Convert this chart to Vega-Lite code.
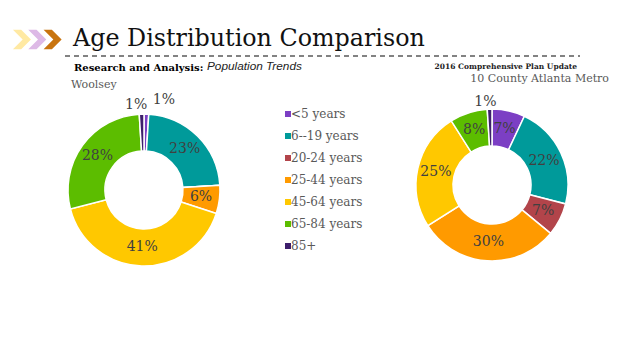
{
  "$schema": "https://vega.github.io/schema/vega-lite/v6.json",
  "background": "white",
  "padding": {"left": 12, "top": 27, "right": 0, "bottom": 0},
  "config": {"view": {"stroke": null}},
  "datasets": {
    "chevrons": [{"step": 1}, {"step": 2}, {"step": 3}],
    "heading": [{"text": "Age Distribution Comparison"}],
    "woolsey": [
      {"k": 1, "age": "<5 years", "share": 0.01},
      {"k": 2, "age": "6--19 years", "share": 0.23},
      {"k": 3, "age": "20-24 years", "share": 0},
      {"k": 4, "age": "25-44 years", "share": 0.06},
      {"k": 5, "age": "45-64 years", "share": 0.41},
      {"k": 6, "age": "65-84 years", "share": 0.28},
      {"k": 7, "age": "85+", "share": 0.01}
    ],
    "atlanta": [
      {"k": 1, "age": "<5 years", "share": 0.07},
      {"k": 2, "age": "6--19 years", "share": 0.22},
      {"k": 3, "age": "20-24 years", "share": 0.07},
      {"k": 4, "age": "25-44 years", "share": 0.30},
      {"k": 5, "age": "45-64 years", "share": 0.25},
      {"k": 6, "age": "65-84 years", "share": 0.08},
      {"k": 7, "age": "85+", "share": 0.01}
    ]
  },
  "vconcat": [
    {
      "hconcat": [
        {
          "width": 46,
          "height": 7,
          "data": {"name": "chevrons"},
          "mark": {"type": "point", "shape": "M-1,-1L-0.15,-1L0.85,0L-0.15,1L-1,1L0,0Z", "filled": true, "size": 380, "opacity": 1, "strokeWidth": 0},
          "encoding": {
            "x": {"field": "step", "type": "ordinal", "axis": null, "scale": {"padding": 0.5}},
            "color": {"field": "step", "type": "ordinal", "legend": null, "scale": {"range": ["#FFE9A3", "#DDB9E6", "#C8740F"]}}
          }
        },
        {
          "width": 515,
          "height": 20,
          "data": {"name": "heading"},
          "layer": [
            {
              "mark": {"type": "rule", "strokeDash": [5, 4], "strokeWidth": 1.5, "color": "#5a5a5a"},
              "encoding": {
                "x": {"datum": 0, "type": "quantitative", "scale": {"domain": [0, 1]}, "axis": null},
                "x2": {"datum": 1},
                "y": {"datum": 0, "type": "quantitative", "scale": {"domain": [0, 1]}, "axis": null}
              }
            },
            {
              "mark": {"type": "text", "align": "left", "baseline": "alphabetic", "dx": 8, "font": "DejaVu Serif", "fontSize": 23.8, "color": "#111111"},
              "encoding": {
                "x": {"datum": 0, "type": "quantitative"},
                "text": {"field": "text", "type": "nominal"}
              }
            }
          ]
        }
      ],
      "spacing": 2,
      "resolve": {"scale": {"color": "independent", "x": "independent", "y": "independent"}}
    },
    {
      "vconcat": [
        {
          "hconcat": [
            {
              "width": 1, "height": 1,
              "data": {"values": []},
              "mark": "point",
              "title": {"text": "Research and Analysis:", "anchor": "start", "dx": 59, "offset": 0, "font": "DejaVu Serif", "fontSize": 10, "fontWeight": "bold", "color": "#000000"}
            },
            {
              "width": 1, "height": 1,
              "data": {"values": []},
              "mark": "point",
              "title": {"text": "Population Trends", "anchor": "start", "offset": 0, "font": "Liberation Sans", "fontStyle": "italic", "fontSize": 11.8, "fontWeight": "normal", "color": "#222222"}
            },
            {
              "width": 272, "height": 1,
              "data": {"values": []},
              "mark": "point",
              "title": {"text": "2016 Comprehensive Plan Update", "anchor": "end", "offset": 3, "font": "DejaVu Serif", "fontSize": 7.5, "fontWeight": "bold", "color": "#222222"}
            }
          ],
          "spacing": 3
        },
        {
          "hconcat": [
            {
              "width": 258,
              "height": 178,
              "data": {"name": "woolsey"},
              "title": {"text": "Woolsey", "anchor": "start", "dx": 56, "offset": 3, "font": "DejaVu Serif", "fontSize": 11, "fontWeight": "normal", "color": "#595959"},
              "encoding": {
                "theta": {"field": "share", "type": "quantitative", "stack": true},
                "order": {"field": "k", "type": "quantitative"},
                "color": {
                  "field": "age", "type": "nominal",
                  "scale": {"domain": ["<5 years", "6--19 years", "20-24 years", "25-44 years", "45-64 years", "65-84 years", "85+"], "range": ["#7C3FC4", "#009A9A", "#B2444A", "#FF9A00", "#FFC800", "#5CBD00", "#3D1E6C"]},
                  "legend": {"title": null, "orient": "right", "offset": 2, "padding": 7, "symbolType": "square", "symbolSize": 36, "symbolStrokeWidth": 0, "labelFont": "DejaVu Serif", "labelFontSize": 12, "labelColor": "#595959", "rowPadding": 10, "labelOffset": -3}
                }
              },
              "layer": [
                {"mark": {"type": "arc", "outerRadius": 76, "innerRadius": 39, "stroke": "white", "strokeWidth": 1.5}},
                {
                  "mark": {"type": "text", "radius": 57.5, "font": "DejaVu Serif", "fontSize": 14},
                  "encoding": {
                    "text": {"field": "share", "type": "quantitative", "format": ".0%"},
                    "color": {"value": "#404040"},
                    "opacity": {"condition": {"test": "datum.share < 0.02", "value": 0}, "value": 1}
                  }
                },
                {
                  "mark": {"type": "text", "radius": 90, "align": "left", "dx": 6, "font": "DejaVu Serif", "fontSize": 14},
                  "encoding": {
                    "text": {"field": "share", "type": "quantitative", "format": ".0%"},
                    "color": {"value": "#404040"},
                    "opacity": {"condition": {"test": "datum.age !== '<5 years'", "value": 0}, "value": 1}
                  }
                },
                {
                  "mark": {"type": "text", "radius": 85, "align": "right", "dx": 6, "font": "DejaVu Serif", "fontSize": 14},
                  "encoding": {
                    "text": {"field": "share", "type": "quantitative", "format": ".0%"},
                    "color": {"value": "#404040"},
                    "opacity": {"condition": {"test": "datum.age !== '85+'", "value": 0}, "value": 1}
                  }
                }
              ]
            },
            {
              "width": 234,
              "height": 168,
              "data": {"name": "atlanta"},
              "title": {"text": "10 County Atlanta Metro", "anchor": "end", "offset": 11, "font": "DejaVu Serif", "fontSize": 11, "fontWeight": "normal", "color": "#595959"},
              "encoding": {
                "theta": {"field": "share", "type": "quantitative", "stack": true},
                "order": {"field": "k", "type": "quantitative"},
                "color": {
                  "field": "age", "type": "nominal",
                  "scale": {"domain": ["<5 years", "6--19 years", "20-24 years", "25-44 years", "45-64 years", "65-84 years", "85+"], "range": ["#7C3FC4", "#009A9A", "#B2444A", "#FF9A00", "#FFC800", "#5CBD00", "#3D1E6C"]},
                  "legend": null
                }
              },
              "layer": [
                {"mark": {"type": "arc", "outerRadius": 76, "innerRadius": 39, "stroke": "white", "strokeWidth": 1.5}},
                {
                  "mark": {"type": "text", "radius": 57.5, "font": "DejaVu Serif", "fontSize": 14},
                  "encoding": {
                    "text": {"field": "share", "type": "quantitative", "format": ".0%"},
                    "color": {"value": "#404040"},
                    "opacity": {"condition": {"test": "datum.share < 0.02", "value": 0}, "value": 1}
                  }
                },
                {
                  "mark": {"type": "text", "radius": 83, "dx": -4, "font": "DejaVu Serif", "fontSize": 14},
                  "encoding": {
                    "text": {"field": "share", "type": "quantitative", "format": ".0%"},
                    "color": {"value": "#404040"},
                    "opacity": {"condition": {"test": "datum.age !== '85+'", "value": 0}, "value": 1}
                  }
                }
              ]
            }
          ],
          "spacing": 5,
          "resolve": {"scale": {"color": "independent"}, "legend": {"color": "independent"}}
        }
      ],
      "spacing": -1
    }
  ],
  "spacing": 4
}
